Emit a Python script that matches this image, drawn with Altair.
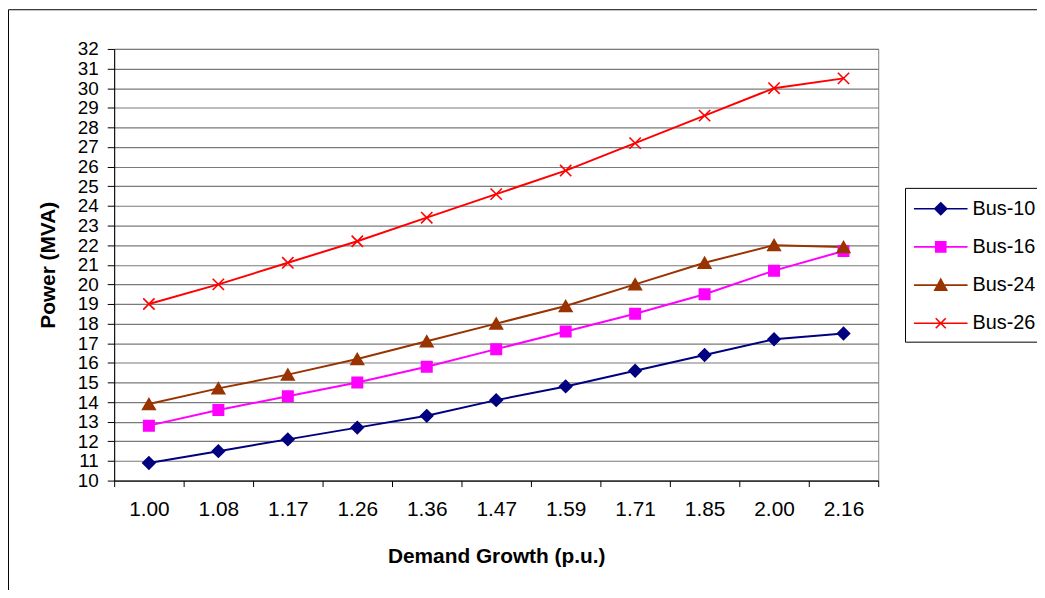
import altair as alt
import pandas as pd

# ---- data ----
growth = ["1.00", "1.08", "1.17", "1.26", "1.36", "1.47", "1.59", "1.71", "1.85", "2.00", "2.16"]
series_names = ["Bus-10", "Bus-16", "Bus-24", "Bus-26"]
bus10 = [10.9, 11.5, 12.1, 12.7, 13.3, 14.1, 14.8, 15.6, 16.4, 17.2, 17.5]
bus16 = [12.8, 13.6, 14.3, 15.0, 15.8, 16.7, 17.6, 18.5, 19.5, 20.7, 21.7]
bus24 = [13.9, 14.7, 15.4, 16.2, 17.1, 18.0, 18.9, 20.0, 21.1, 22.0, 21.9]
bus26 = [19.0, 20.0, 21.1, 22.2, 23.4, 24.6, 25.8, 27.2, 28.6, 30.0, 30.5]
y_ticks = list(range(10, 33))

# ---- styles ----
colors = ["#000080", "#FF00FF", "#993300", "#FF0000"]
plot_shapes = ["diamond", "square", "triangle-up", "M-1,-1L1,1M-1,1L1,-1"]
plot_sizes = [150, 110, 160, 130]
legend_paths = [
    "M-1,0L3.5,0M1.25,-0.5L1.75,0L1.25,0.5L0.75,0Z",
    "M-1,0L3.5,0M0.83,-0.42L1.67,-0.42L1.67,0.42L0.83,0.42Z",
    "M-1,0L3.5,0M1.25,-0.5L1.75,0.42L0.75,0.42Z",
    "M-1,0L3.5,0M0.83,-0.42L1.67,0.42M0.83,0.42L1.67,-0.42",
]
FONT = "Liberation Sans"

rows = []
for name, vals in zip(series_names, [bus10, bus16, bus24, bus26]):
    for g, v in zip(growth, vals):
        rows.append({"growth": g, "power": v, "series": name})
df = pd.DataFrame(rows)

color_scale = alt.Scale(domain=series_names, range=colors)


def x_enc():
    return alt.X(
        "growth:N",
        sort=growth,
        scale=alt.Scale(paddingInner=0, paddingOuter=0),
        axis=alt.Axis(
            title="Demand Growth (p.u.)",
            labelAngle=0,
            labelFontSize=21,
            tickBand="extent",
            grid=False,
            domainColor="#000000",
            tickColor="#000000",
            tickSize=6,
            labelPadding=12,
            titlePadding=27,
        ),
    )


def y_enc():
    return alt.Y(
        "power:Q",
        scale=alt.Scale(domain=[10, 32], nice=False, zero=False),
        axis=alt.Axis(
            title="Power (MVA)",
            values=y_ticks,
            tickCount=23,
            format="d",
            labelOverlap=False,
            labelFontSize=19,
            grid=True,
            gridColor="#7a7a7a",
            gridWidth=1.2,
            domainColor="#000000",
            tickColor="#000000",
            tickSize=7,
            labelPadding=9,
            titlePadding=19,
        ),
    )


base = alt.Chart(df)

legend_layer = base.mark_point(filled=True, strokeWidth=1.6, size=0, opacity=1).encode(
    x=x_enc(),
    y=y_enc(),
    fill=alt.Fill("series:N", scale=color_scale),
    stroke=alt.Stroke("series:N", scale=color_scale),
    shape=alt.Shape(
        "series:N",
        scale=alt.Scale(domain=series_names, range=legend_paths),
        legend=alt.Legend(
            title=None,
            orient="none",
            legendX=797,
            legendY=140,
            padding=8,
            symbolSize=576,
            symbolStrokeWidth=1.6,
            labelOffset=34,
            rowPadding=15.5,
            labelFont=FONT,
            labelFontSize=20,
            labelColor="#000000",
            strokeColor="#000000",
            fillColor="#FFFFFF",
        ),
    ),
)

lines = base.mark_line(strokeWidth=2).encode(
    x=x_enc(),
    y=y_enc(),
    stroke=alt.Stroke("series:N", scale=color_scale),
    detail="series:N",
)

point_layers = []
for name, shp, sz in zip(series_names, plot_shapes, plot_sizes):
    point_layers.append(
        base.transform_filter(alt.datum.series == name)
        .mark_point(shape=shp, size=sz, filled=True, strokeWidth=1.6, opacity=1)
        .encode(
            x=x_enc(),
            y=y_enc(),
            fill=alt.Fill("series:N", scale=color_scale),
            stroke=alt.Stroke("series:N", scale=color_scale),
        )
    )

frame = (
    alt.Chart(alt.Data(values=[{"k": 1}]))
    .mark_rect(filled=False, stroke="#000000", strokeWidth=1)
    .encode(
        x=alt.value(-106.5),
        x2=alt.value(1200),
        y=alt.value(-39.5),
        y2=alt.value(800),
    )
)

chart = (
    alt.layer(legend_layer, lines, *point_layers, frame)
    .properties(
        width=770,
        height=435,
        autosize="none",
        padding={"left": 107, "top": 39, "right": 160, "bottom": 108},
        background="#FFFFFF",
    )
    .configure_view(stroke="#808080", strokeWidth=1, fill="#FFFFFF")
    .configure_axis(
        labelFont=FONT,
        labelColor="#000000",
        titleFont=FONT,
        titleFontSize=21,
        titleFontWeight="bold",
        titleColor="#000000",
        domainWidth=1,
        tickWidth=1,
    )
)

chart.save("out.html", embed_options={"renderer": "svg", "actions": False})
